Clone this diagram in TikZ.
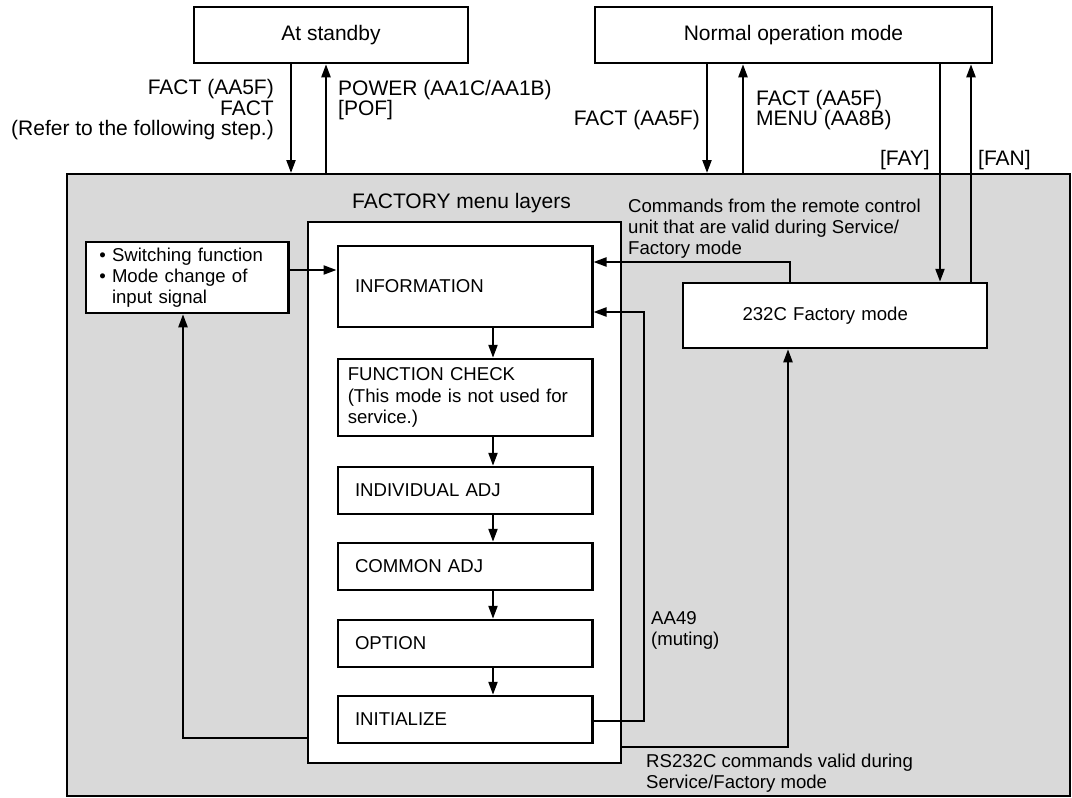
\documentclass[tikz,border=0pt]{standalone}
\usepackage{fontspec}
\setmainfont{Liberation Sans}
\usetikzlibrary{arrows.meta}
\definecolor{panelgray}{RGB}{217,217,217}
\begin{document}
\begin{tikzpicture}[x=1pt,y=-1pt,
  box/.style={draw,line width=2.5pt,fill=white,inner sep=0pt},
  arr/.style={line width=2.2pt,-{Triangle[length=13pt,width=9pt]}},
  ln/.style={line width=2.2pt},
  bigf/.style={font=\fontsize{21}{20.5}\selectfont},
  smallf/.style={font=\fontsize{18.6}{21.3}\selectfont},
  lbl/.style={inner sep=0pt}]
\useasboundingbox (0,0) rectangle (1072,798);

% panels
\node[draw,line width=2pt,fill=panelgray,minimum width=1003pt,minimum height=622pt,inner sep=0pt] (gray) at (568.5,485) {};
\node[box,bigf,minimum width=274pt,minimum height=56pt] (standby) at (331,35) {At standby};
\node[box,bigf,minimum width=397pt,minimum height=56pt] (normal) at (793.5,35) {Normal operation mode};
\node[box,line width=2.5pt,minimum width=313pt,minimum height=541pt] (factory) at (464.5,492.5) {};
\node[lbl,bigf] (title) at (461.5,203) {FACTORY menu layers};

% inner boxes
\node[box,smallf,minimum width=254.5pt,minimum height=81pt,text width=220pt,align=left] (info) at (465,286.5) {INFORMATION};
\node[box,smallf,minimum width=254.5pt,minimum height=77pt,text width=234.5pt,align=left] (fcheck) at (465,397.5) {FUNCTION CHECK\\(This mode is not used for\\service.)};
\node[box,smallf,minimum width=254.5pt,minimum height=47pt,text width=220pt,align=left] (indiv) at (465,490.5) {INDIVIDUAL ADJ};
\node[box,smallf,minimum width=254.5pt,minimum height=47pt,text width=220pt,align=left] (common) at (465,566.5) {COMMON ADJ};
\node[box,smallf,minimum width=254.5pt,minimum height=47pt,text width=220pt,align=left] (option) at (465,643.5) {OPTION};
\node[box,smallf,minimum width=254.5pt,minimum height=47pt,text width=220pt,align=left] (init) at (465,719.5) {INITIALIZE};

\node[box,smallf,minimum width=202.6pt,minimum height=71pt,text width=176pt,align=left] (switch) at (187.3,277.5) {• Switching function\\• Mode change of\\\phantom{• }input signal};
\node[box,smallf,minimum width=304pt,minimum height=65pt,text width=185pt,align=left] (fact232) at (835,315.5) {232C Factory mode};

% labels
\node[lbl,bigf,anchor=east,align=right] (lblA) at (274,110) {FACT (AA5F)\\FACT\\(Refer to the following step.)};
\node[lbl,bigf,anchor=west,align=left] (lblB) at (338,100) {POWER (AA1C/AA1B)\\{[POF]}};
\node[lbl,bigf,anchor=east] (lblC) at (700,120) {FACT (AA5F)};
\node[lbl,bigf,anchor=west,align=left] (lblD) at (756,110) {FACT (AA5F)\\MENU (AA8B)};
\node[lbl,bigf,anchor=east] (lblE) at (930,160) {[FAY]};
\node[lbl,bigf,anchor=west] (lblF) at (978,160) {[FAN]};
\node[lbl,smallf,anchor=west,align=left] (cmd) at (628,228.5) {Commands from the remote control\\unit that are valid during Service/\\Factory mode};
\node[lbl,smallf,anchor=west,align=left] (aa49) at (651,630.5) {AA49\\(muting)};
\node[lbl,smallf,anchor=west,align=left] (rs) at (646,773.5) {RS232C commands valid during\\Service/Factory mode};

% top connectors
\draw[arr] (standby.south -| 291,0) -- (291,0 |- gray.north);
\draw[arr] (326,0 |- gray.north) -- (326,0 |- standby.south);
\draw[arr] (normal.south -| 707,0) -- (707,0 |- gray.north);
\draw[arr] (743,0 |- gray.north) -- (743,0 |- normal.south);
\draw[arr] (normal.south -| 940,0) -- (940,0 |- fact232.north);
\draw[arr] (fact232.north -| 971,0) -- (971,0 |- normal.south);

% chain
\draw[arr] (info.south -| 493,0) -- (493,0 |- fcheck.north);
\draw[arr] (fcheck.south -| 493,0) -- (493,0 |- indiv.north);
\draw[arr] (indiv.south -| 493,0) -- (493,0 |- common.north);
\draw[arr] (common.south -| 493,0) -- (493,0 |- option.north);
\draw[arr] (option.south -| 493,0) -- (493,0 |- init.north);

% side connectors
\draw[arr] (790,0 |- fact232.north) |- (info.east |- 0,262);
\draw[arr] (init.east |- 0,721) -| (644,312) -- (info.east |- 0,312);
\draw[arr] (switch.east |- 0,270) -- (info.west |- 0,270);
\draw[arr] (factory.west |- 0,738) -| (183,0 |- switch.south);
\draw[arr] (factory.east |- 0,747) -| (788,0 |- fact232.south);
\end{tikzpicture}
\end{document}
